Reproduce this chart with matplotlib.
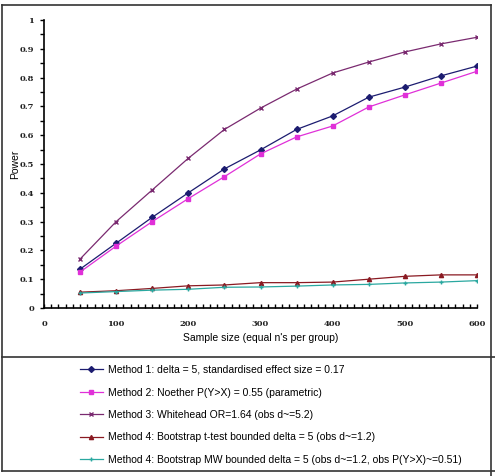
import matplotlib
matplotlib.use("Agg")
import matplotlib.pyplot as plt
from matplotlib.lines import Line2D
from matplotlib.ticker import MultipleLocator

sample_size = [50, 100, 150, 200, 250, 300, 350, 400, 450, 500, 550, 600]
method1 = [0.135, 0.225, 0.315, 0.40, 0.483, 0.549, 0.62, 0.667, 0.732, 0.767, 0.806, 0.84]
method2 = [0.125, 0.215, 0.30, 0.38, 0.456, 0.535, 0.594, 0.632, 0.698, 0.74, 0.781, 0.822]
method3 = [0.17, 0.30, 0.41, 0.52, 0.62, 0.694, 0.76, 0.816, 0.854, 0.889, 0.917, 0.94]
method4_t = [0.055, 0.06, 0.068, 0.077, 0.08, 0.088, 0.088, 0.09, 0.10, 0.11, 0.115, 0.115]
method4_mw = [0.052, 0.057, 0.062, 0.065, 0.072, 0.073, 0.076, 0.08, 0.082, 0.087, 0.09, 0.095]

y_ticks = [0, 0.1, 0.2, 0.3, 0.4, 0.5, 0.6, 0.7, 0.8, 0.9, 1.0]
y_ticklabels = ["0", "0.1", "0.2", "0.3", "0.4", "0.5", "0.6", "0.7", "0.8", "0.9", "1"]

labels = [
    "Method 1: delta = 5, standardised effect size = 0.17",
    "Method 2: Noether P(Y>X) = 0.55 (parametric)",
    "Method 3: Whitehead OR=1.64 (obs d~=5.2)",
    "Method 4: Bootstrap t-test bounded delta = 5 (obs d~=1.2)",
    "Method 4: Bootstrap MW bounded delta = 5 (obs d~=1.2, obs P(Y>X)~=0.51)",
]
series = [method1, method2, method3, method4_t, method4_mw]
colors = ["#1c1c70", "#e030d8", "#7a2a70", "#8a1a22", "#2aa8a0"]
markers = ["D", "s", "x", "^", "+"]
msizes = [3, 3.5, 2.5, 3, 3.5]

W, H = 495, 476
fig = plt.figure(figsize=(W / 100, H / 100), dpi=100)
fig.patch.set_facecolor("white")

ax = fig.add_axes([44 / W, 1 - 308 / H, (477 - 44) / W, (308 - 20) / H])
handles = []
for y, c, m, ms, lab in zip(series, colors, markers, msizes, labels):
    h, = ax.plot(sample_size, y, color=c, marker=m, markersize=ms, linewidth=0.9,
                 markeredgewidth=1.0, label=lab)
    handles.append(h)

ax.set_xlim(0, 600)
ax.set_ylim(0, 1)
ax.xaxis.set_major_locator(MultipleLocator(100))
ax.xaxis.set_minor_locator(MultipleLocator(10))
ax.yaxis.set_minor_locator(MultipleLocator(0.05))
ax.set_yticks(y_ticks)
ax.set_yticklabels(y_ticklabels)
for s in ["top", "right"]:
    ax.spines[s].set_visible(False)
for s in ["left", "bottom"]:
    ax.spines[s].set_linewidth(1.2)
ax.tick_params(axis="x", which="both", direction="in", length=3, width=1, pad=9)
ax.tick_params(axis="y", which="both", direction="out", length=3, width=1, pad=4)
for t in ax.get_xticklabels() + ax.get_yticklabels():
    t.set_fontfamily("DejaVu Serif")
    t.set_fontweight("bold")
    t.set_fontsize(6)
    t.set_color("#222222")
ax.set_ylabel("Power", fontsize=7.5, family="Liberation Sans")
ax.yaxis.set_label_coords((15 - 44) / 433, 0.5)
ax.set_xlabel("Sample size (equal n's per group)", fontsize=7.5, family="Liberation Sans")
ax.xaxis.set_label_coords(0.5, (308 - 338) / 288)
ax.xaxis.label.set_va("center")
ax.yaxis.label.set_va("center")

# frame and divider lines
def fline(x0, y0, x1, y1, lw=1.2):
    fig.add_artist(Line2D([x0 / W, x1 / W], [1 - y0 / H, 1 - y1 / H],
                          color="#333333", linewidth=lw, transform=fig.transFigure))

fline(2, 5, 491, 5)
fline(2, 5, 2, 471)
fline(491, 5, 491, 476)
fline(2, 471, 495, 471)
fline(2, 357, 495, 357)

fig.legend(handles=handles, loc="upper left", bbox_to_anchor=(80 / W, 1 - 365 / H),
           bbox_transform=fig.transFigure, frameon=False, borderpad=0, borderaxespad=0,
           handlelength=2.2, handletextpad=0.5, labelspacing=1.2,
           prop={"family": "Liberation Sans", "size": 7.5})

fig.savefig("out.png", dpi=100)
